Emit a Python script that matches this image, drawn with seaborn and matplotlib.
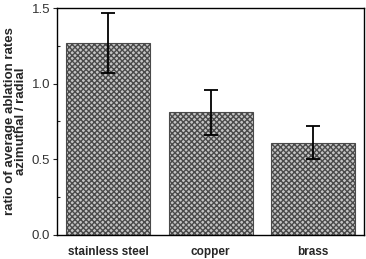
import numpy as np
import pandas as pd
import matplotlib
matplotlib.use("Agg")
import matplotlib.pyplot as plt
import seaborn as sns
from matplotlib.ticker import MultipleLocator

materials = ["stainless steel", "copper", "brass"]
ratio = [1.27, 0.81, 0.61]
err = [0.20, 0.15, 0.11]

sns.set_style("ticks")
plt.rcParams['font.family'] = ['Liberation Sans', 'DejaVu Sans']
plt.rcParams['hatch.linewidth'] = 1.0

df = pd.DataFrame({"material": materials, "ratio": ratio})

fig = plt.figure(figsize=(3.66, 2.59), dpi=100)
ax = fig.add_axes([0.156, 0.093, 0.839, 0.876])
sns.barplot(data=df, x="material", y="ratio", ax=ax, width=0.82,
            color="#c4c4c4", edgecolor="#4a4a4a", linewidth=0.8)
for p in ax.patches:
    p.set_hatch("xxxxxx")
ax.errorbar(materials, ratio, yerr=err, fmt="none", ecolor="black",
            elinewidth=1.3, capsize=5, capthick=1.3)

ax.set_xlim(-0.5, 2.5)
ax.set_ylim(0, 1.5)
ax.yaxis.set_major_locator(MultipleLocator(0.5))
ax.yaxis.set_minor_locator(MultipleLocator(0.25))
ax.yaxis.set_major_formatter(matplotlib.ticker.FormatStrFormatter('%.1f'))
ax.tick_params(axis='y', which='major', labelsize=9.5, length=3, width=0.8,
               direction='out', labelcolor='#333333', pad=2)
ax.tick_params(axis='y', which='minor', length=2.5, width=0.8, direction='in')
ax.tick_params(axis='x', length=0, labelsize=8.5, pad=8)
for lbl in ax.get_xticklabels():
    lbl.set_fontweight('bold')
for s in ax.spines.values():
    s.set_visible(True)
    s.set_linewidth(1.0)
    s.set_color("black")
ax.set_xlabel("")
ax.set_ylabel("ratio of average ablation rates\nazimuthal / radial",
              fontsize=9.5, fontweight='bold', linespacing=0.95, labelpad=3)

fig.savefig("out.png", dpi=100)
